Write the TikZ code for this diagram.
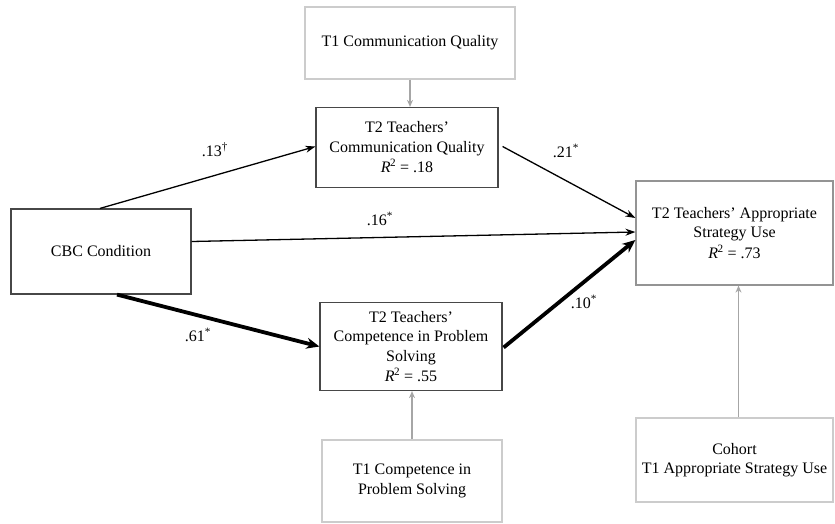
\documentclass[tikz,border=0pt]{standalone}
\usepackage{fontspec}
\setmainfont{Liberation Serif}
\usetikzlibrary{arrows.meta}
\newcommand{\Rsq}{\textit{R}\kern-0.5pt\textsuperscript{2}}
\begin{document}
\begin{tikzpicture}[x=1pt,y=-1pt,
  box/.style={draw, line width=1.2pt, align=center, inner sep=0pt,
    font=\fontsize{16}{19.5}\selectfont},
  darkbox/.style={box, draw=black!72},
  midbox/.style={box, draw=black!42},
  lightbox/.style={box, draw=black!20},
  lbl/.style={font=\fontsize{16}{19}\selectfont, inner sep=0pt},
  arr/.style={-{Stealth[length=10pt,width=7pt]}, line width=1.3pt},
  bigarr/.style={-{Stealth[length=13pt,width=11pt]}, line width=3.8pt},
  grayarr/.style={-{Stealth[length=7pt,width=6pt]}, line width=1.3pt, draw=black!35}]
\useasboundingbox (0,0) rectangle (835,523);
\fill[white] (0,0) rectangle (835,523);

\node[lightbox, minimum width=210, minimum height=72] (t1c) at (410,43) {T1 Communication Quality};
\node[darkbox, minimum width=182, minimum height=80] (t2c) at (407,147.5) {T2 Teachers'\\ Communication Quality\\[1pt] \Rsq{} = .18};
\node[darkbox, minimum width=180, minimum height=85] (cbc) at (101,251.5) {CBC Condition};
\node[darkbox, minimum width=182, minimum height=88] (t2p) at (411,346.5) {T2 Teachers'\\ Competence in Problem\\ Solving\\[1pt] \Rsq{} = .55};
\node[lightbox, minimum width=180, minimum height=82] (t1p) at (412,481) {T1 Competence in\\ Problem Solving};
\node[midbox, minimum width=197, minimum height=104] (t2s) at (734.5,233) {T2 Teachers' Appropriate\\ Strategy Use\\[1pt] \Rsq{} = .73};
\node[lightbox, minimum width=197, minimum height=84] (coh) at (734.5,460) {Cohort\\ T1 Appropriate Strategy Use};

\draw[grayarr] (t1c.south) -- (t1c.south |- t2c.north);
\draw[grayarr] (t1p.north) -- (t1p.north |- t2p.south);
\draw[grayarr] ([xshift=4pt]coh.north) -- ([xshift=4pt]coh.north |- t2s.south);

\draw[arr] ([xshift=-1pt]cbc.north) -- ([yshift=1pt]t2c.west);
\draw[arr] ([yshift=10pt]cbc.east) -- ([yshift=1pt]t2s.west);
\draw[bigarr] ([xshift=16pt]cbc.south) -- (t2p.west);
\draw[arr] ([xshift=4pt,yshift=1pt]t2c.east) -- ([yshift=15pt]t2s.west);
\draw[bigarr] ([xshift=1pt,yshift=-1pt]t2p.east) -- ([yshift=-7pt]t2s.west);

\node[lbl] (l13) at (215,150) {.13\textsuperscript{†}};
\node[lbl] (l16) at (380,219) {.16\textsuperscript{*}};
\node[lbl] (l61) at (198,335) {.61\textsuperscript{*}};
\node[lbl] (l21) at (566,151) {.21\textsuperscript{*}};
\node[lbl] (l10) at (584,302) {.10\textsuperscript{*}};
\end{tikzpicture}
\end{document}
